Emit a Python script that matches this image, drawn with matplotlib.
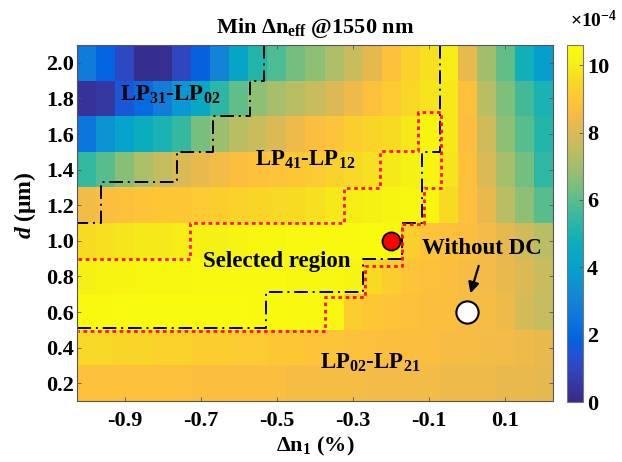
import numpy as np
import matplotlib
matplotlib.use('Agg')
import matplotlib.pyplot as plt
from matplotlib.colors import LinearSegmentedColormap

plt.rcParams['font.family'] = ['Liberation Serif', 'DejaVu Serif']
plt.rcParams['font.weight'] = 'bold'
plt.rcParams['axes.labelweight'] = 'bold'
plt.rcParams['mathtext.fontset'] = 'custom'
plt.rcParams['mathtext.rm'] = 'Liberation Serif:bold'
plt.rcParams['mathtext.bf'] = 'Liberation Serif:bold'
plt.rcParams['mathtext.it'] = 'Liberation Serif:italic:bold'
plt.rcParams['mathtext.default'] = 'rm'

# 数据: Δn1 (%) 和 d (μm), 最小 Δn_eff (×1e-4)
dn1 = np.round(np.arange(-1.0, 0.2001, 0.05), 2)
d = [2.0, 1.8, 1.6, 1.4, 1.2, 1.0, 0.8, 0.6, 0.4, 0.2]

row_20 = [2.7, 1.9, 1.1, 0.15, 0.2, 1.0, 1.8, 3.0, 4.2, 5.2, 5.8, 6.3, 6.7, 7.2, 7.7, 8.2, 8.8, 9.3, 9.7, 10.0, 8.3, 7.0, 6.1, 4.8, 3.9]
row_18 = [0.3, 0.5, 1.5, 2.1, 2.8, 3.7, 4.4, 5.3, 6.1, 6.7, 7.1, 7.4, 7.7, 8.0, 8.4, 8.8, 9.1, 9.5, 9.8, 9.9, 8.8, 7.4, 6.5, 5.7, 5.0]
row_16 = [2.5, 3.6, 4.1, 4.6, 5.0, 5.5, 6.4, 6.9, 7.4, 7.7, 8.0, 8.4, 8.7, 8.9, 9.2, 9.4, 9.6, 9.9, 10.2, 9.9, 8.7, 7.8, 6.7, 6.0, 5.2]
row_14 = [5.5, 6.0, 6.6, 7.2, 7.6, 8.0, 8.3, 8.5, 8.7, 8.8, 8.9, 9.0, 9.1, 9.3, 9.5, 9.7, 9.9, 10.1, 10.2, 9.8, 8.8, 8.0, 7.1, 6.3, 5.4]
row_12 = [8.5, 8.7, 8.8, 8.9, 9.0, 9.0, 9.1, 9.2, 9.3, 9.4, 9.5, 9.6, 9.7, 9.9, 10.0, 10.1, 10.2, 10.3, 10.3, 9.6, 8.8, 8.3, 7.4, 6.7, 6.0]
row_10 = [9.6, 9.7, 9.8, 9.9, 9.9, 10.0, 10.1, 10.1, 10.2, 10.3, 10.3, 10.4, 10.4, 10.5, 10.5, 10.6, 10.5, 9.2, 8.9, 8.8, 8.7, 8.5, 8.2, 7.8, 7.4]
row_08 = [10.1, 10.2, 10.2, 10.3, 10.3, 10.3, 10.4, 10.4, 10.4, 10.4, 10.4, 10.3, 10.3, 10.3, 10.2, 9.6, 9.2, 8.9, 8.8, 8.7, 8.6, 8.5, 8.3, 8.0, 7.7]
row_06 = [10.5, 10.5, 10.6, 10.6, 10.6, 10.6, 10.6, 10.6, 10.6, 10.5, 10.5, 10.4, 10.4, 10.3, 9.2, 9.0, 8.9, 8.8, 8.7, 8.7, 8.6, 8.6, 8.4, 7.9, 7.6]
row_04 = [9.5, 9.5, 9.4, 9.4, 9.3, 9.3, 9.2, 9.2, 9.1, 9.1, 9.0, 9.0, 8.9, 8.9, 8.8, 8.8, 8.7, 8.7, 8.7, 8.6, 8.6, 8.5, 8.5, 8.4, 8.3]
row_02 = [8.8, 8.8, 8.8, 8.8, 8.8, 8.8, 8.7, 8.7, 8.7, 8.7, 8.7, 8.6, 8.6, 8.6, 8.6, 8.5, 8.5, 8.5, 8.5, 8.4, 8.4, 8.4, 8.3, 8.3, 8.2]

# 模式分界线 (点划线) 与选定区域 (红色虚线)
upper_x = [-0.535, -0.535, -0.572, -0.572, -0.668, -0.668, -0.763, -0.763, -0.961, -0.961, -1.025]
upper_y = [2.1, 1.9, 1.9, 1.7, 1.7, 1.5, 1.5, 1.33, 1.33, 1.1, 1.1]
lower_x = [-0.072, -0.072, -0.120, -0.120, -0.171, -0.171, -0.274, -0.274, -0.528, -0.528, -1.025]
lower_y = [2.1, 1.5, 1.5, 1.1, 1.1, 0.9, 0.9, 0.715, 0.715, 0.51, 0.51]
sel_x = [-1.023, -0.729, -0.729, -0.324, -0.324, -0.229, -0.229, -0.129, -0.129, -0.070,
         -0.070, -0.115, -0.115, -0.171, -0.171, -0.268, -0.268, -0.374, -0.374, -1.023]
sel_y = [0.896, 0.896, 1.102, 1.102, 1.299, 1.299, 1.506, 1.506, 1.725, 1.725,
         1.295, 1.295, 1.094, 1.094, 0.857, 0.857, 0.686, 0.686, 0.494, 0.494]

chosen = (-0.2, 1.0)
no_dc = (0.0, 0.6)

Z = np.flipud(np.array([row_20, row_18, row_16, row_14, row_12,
                        row_10, row_08, row_06, row_04, row_02]))
d_asc = d[::-1]

parula = LinearSegmentedColormap.from_list('parula', [
    (0.2081, 0.1663, 0.5292), (0.2123, 0.2138, 0.6270), (0.1959, 0.2645, 0.7279),
    (0.1253, 0.3242, 0.8303), (0.0117, 0.3875, 0.8820), (0.0329, 0.4430, 0.8720),
    (0.0723, 0.4887, 0.8467), (0.0749, 0.5375, 0.8263), (0.0343, 0.5966, 0.8199),
    (0.0231, 0.6418, 0.7913), (0.0384, 0.6743, 0.7436), (0.1133, 0.7015, 0.6859),
    (0.2178, 0.7250, 0.6193), (0.3482, 0.7424, 0.5473), (0.4871, 0.7491, 0.4840),
    (0.6099, 0.7473, 0.4337), (0.7184, 0.7411, 0.3905), (0.8185, 0.7327, 0.3498),
    (0.9139, 0.7258, 0.3063), (0.9938, 0.7455, 0.2403), (0.9880, 0.8066, 0.1794),
    (0.9626, 0.8705, 0.1309), (0.9661, 0.9514, 0.0755), (0.9763, 0.9831, 0.0538)])

fig = plt.figure(figsize=(6.22, 4.62), dpi=100)
ax = fig.add_axes([77/622, 61/462, 476/622, 356/462])
cax = fig.add_axes([567/622, 60/462, 16/622, 357/462])

mesh = ax.pcolormesh(dn1, d_asc, Z, shading='nearest', cmap=parula, vmin=0, vmax=10.6)
ax.set_xlim(-1.025, 0.225)
ax.set_ylim(0.1, 2.1)

ax.plot(upper_x, upper_y, color='k', lw=1.4, linestyle=(0, (7, 2.5, 1, 2.5)))
ax.plot(lower_x, lower_y, color='k', lw=1.4, linestyle=(0, (7, 2.5, 1, 2.5)))
ax.plot(sel_x, sel_y, color='#ff1010', lw=2.0, linestyle=(0, (1.3, 1.3)))

ax.plot(*chosen, 'o', ms=13, mfc='#ff0000', mec='k', mew=1.3)
ax.plot(*no_dc, 'o', ms=16, mfc='white', mec='k', mew=1.5)
ax.annotate('', xy=(0.006, 0.69), xytext=(0.032, 0.874),
            arrowprops=dict(arrowstyle='-|>', color='k', lw=1.6, mutation_scale=16))

fs = 16.5
ax.text(-0.78, 1.82, 'LP$_{31}$-LP$_{02}$', ha='center', va='center', fontsize=fs)
ax.text(-0.425, 1.454, 'LP$_{41}$-LP$_{12}$', ha='center', va='center', fontsize=fs)
ax.text(-0.50, 0.883, 'Selected region', ha='center', va='center', fontsize=fs)
ax.text(0.037, 0.954, 'Without DC', ha='center', va='center', fontsize=fs)
ax.text(-0.255, 0.312, 'LP$_{02}$-LP$_{21}$', ha='center', va='center', fontsize=fs)

ax.set_xticks([-0.9, -0.7, -0.5, -0.3, -0.1, 0.1])
ax.set_xticklabels(['-0.9', '-0.7', '-0.5', '-0.3', '-0.1', '0.1'])
ax.set_yticks(d_asc)
ax.set_yticklabels([f'{v:.1f}' for v in d_asc])
ax.tick_params(direction='in', top=True, right=True, length=3, width=0.6,
               labelsize=16, color='#555555')
ax.tick_params(axis='x', pad=7)
ax.tick_params(axis='y', pad=2)
for s in ax.spines.values():
    s.set_color('#555555')
    s.set_linewidth(0.8)

ax.set_title('Min Δn$_{eff}$ @1550 nm', fontsize=16, fontweight='bold', pad=9)
ax.set_xlabel('Δn$_1$ (%)', fontsize=16, labelpad=3)
ax.set_ylabel('$\\mathit{d}$ (μm)', fontsize=17)
ax.yaxis.set_label_coords(-0.082, 0.55)

cb = fig.colorbar(mesh, cax=cax, ticks=[0, 2, 4, 6, 8, 10])
cb.ax.tick_params(direction='in', length=3, width=0.6, labelsize=16, color='#555555', pad=3)
cb.outline.set_edgecolor('#777777')
cb.ax.set_yticklabels(['0', '2', '4', '6', '8', '10'])
fig.text(594/622, 1 - 20/462, '×10$^{-4}$', ha='center', va='center', fontsize=14)

fig.savefig('out.png', dpi=100)
